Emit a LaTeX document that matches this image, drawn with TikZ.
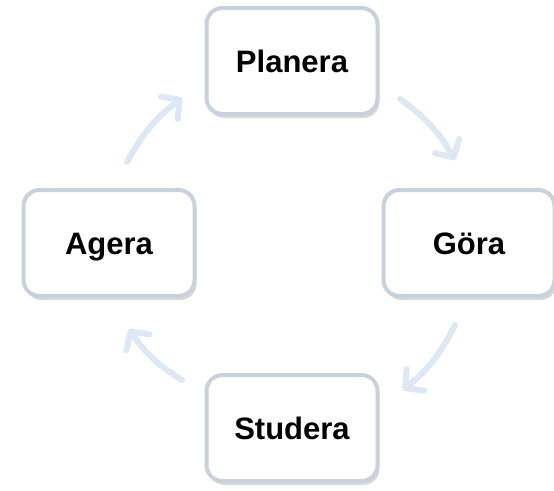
\documentclass[tikz,border=0pt]{standalone}
\usepackage{fontspec}
\setmainfont{Liberation Sans}
\usetikzlibrary{arrows.meta,shadows}
\definecolor{boxline}{HTML}{C9D2DC}
\definecolor{arrowc}{HTML}{DDE8F4}
\tikzset{
  stagebox/.style={draw=boxline, line width=4pt, fill=white, rounded corners=16pt,
    minimum width=171pt, minimum height=106pt, inner sep=0pt,
    text height=22.2pt, text depth=0pt,
    font=\fontsize{31}{35}\selectfont\bfseries,
    drop shadow={shadow xshift=2pt, shadow yshift=-4pt, opacity=0.25, fill=black!60}},
  cyc/.style={draw=arrowc, line width=6pt, line cap=round,
    -{Straight Barb[length=13pt, width=28pt, line width=6pt, round]}}
}
\begin{document}
\begin{tikzpicture}[x=1pt,y=-1pt]
\useasboundingbox (0,0) rectangle (554,490);
\node[stagebox] (pl) at (292,61) {Planera};
\node[stagebox] (go) at (469,243) {Göra};
\node[stagebox] (st) at (292,428) {Studera};
\node[stagebox] (ag) at (109,243) {Agera};
\coordinate (a1s) at (400,99); \coordinate (a1e) at (455,160);
\coordinate (a2s) at (455,325); \coordinate (a2e) at (403,390);
\coordinate (a3s) at (182,380); \coordinate (a3e) at (129,329);
\coordinate (a4s) at (127,162); \coordinate (a4e) at (182,98);
\draw[cyc] (a1s) to[bend left=12] (a1e);
\draw[cyc] (a2s) to[bend left=12] (a2e);
\draw[cyc] (a3s) to[bend left=12] (a3e);
\draw[cyc] (a4s) to[bend left=12] (a4e);
\end{tikzpicture}
\end{document}
